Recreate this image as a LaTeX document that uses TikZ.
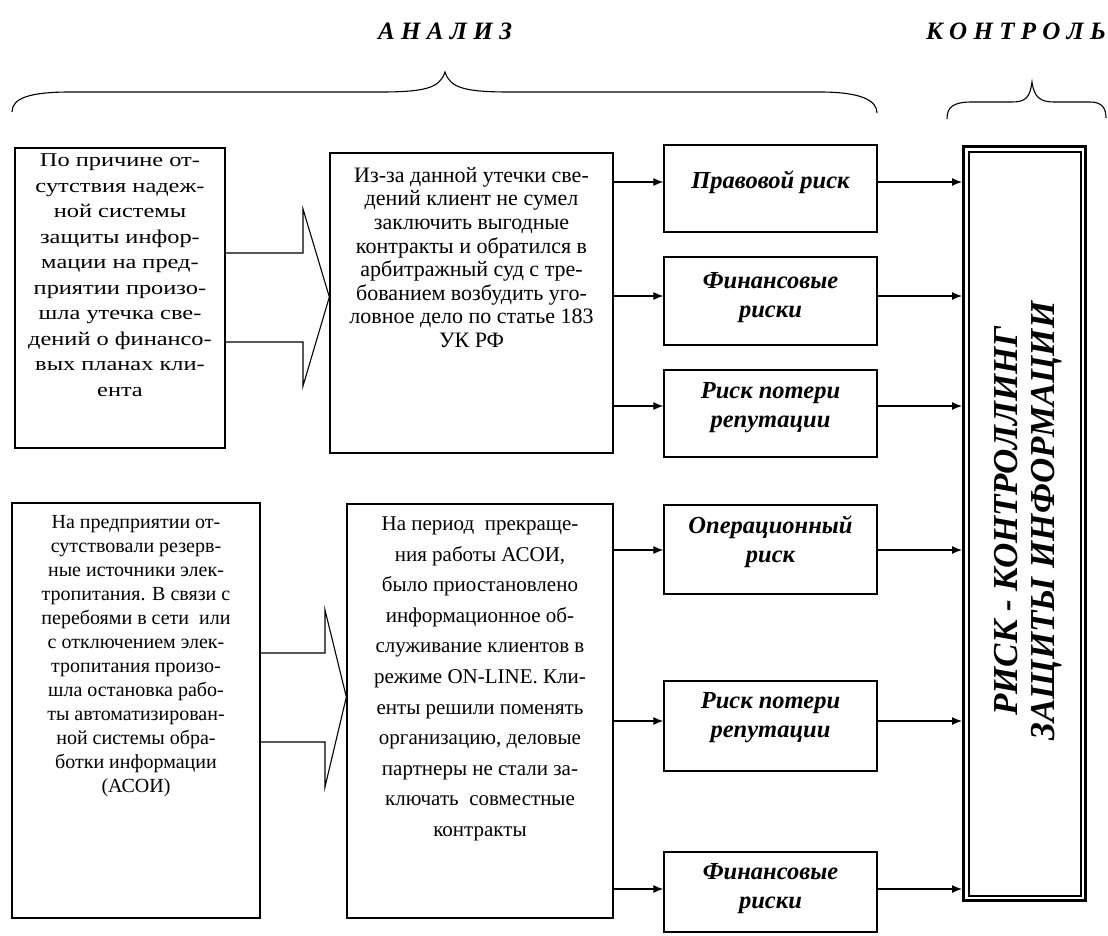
\documentclass[tikz,border=0pt]{standalone}
\usepackage{fontspec}
\setmainfont{Liberation Serif}
\newfontfamily\widefont[FakeStretch=1.25]{Liberation Serif}
\usetikzlibrary{arrows.meta,calc}
\begin{document}
\begin{tikzpicture}[x=1pt,y=-1pt,
  box/.style={draw, line width=1.3pt, inner sep=0pt},
  txt/.style={align=center, inner sep=0pt, anchor=north, font=\fontsize{18.5}{25.5}\selectfont},
  rtxt/.style={align=center, inner sep=0pt, font=\fontsize{24.5}{29}\selectfont\bfseries\itshape},
  hdr/.style={inner sep=0pt, font=\fontsize{25}{25}\selectfont\bfseries\itshape},
  arr/.style={line width=1.2pt, -{Latex[length=10pt,width=8pt]}},
  hollow/.style={line width=1.1pt, line join=miter},
  brace/.style={line width=1.1pt}
]
\useasboundingbox (0,0) rectangle (1108,935);

% headers
\node[hdr] (hA) at (445,31) {\makebox[134pt][s]{А\hfill Н\hfill А\hfill Л\hfill И\hfill З}};
\node[hdr] (hK) at (1016,31) {\makebox[180pt][s]{К\hfill О\hfill Н\hfill Т\hfill Р\hfill О\hfill Л\hfill Ь}};

% braces
\draw[brace] (12,112) .. controls (12,98) and (30,92) .. (70,92) -- (380,92)
  .. controls (425,92) and (440,88) .. (445,72)
  .. controls (450,88) and (465,92) .. (510,92) -- (820,92)
  .. controls (860,92) and (877,100) .. (877,113);
\draw[brace] (947,119) .. controls (947,107) and (953,102) .. (972,102) -- (1012,102)
  .. controls (1026,102) and (1030,97) .. (1032,82)
  .. controls (1034,97) and (1040,102) .. (1054,102) -- (1090,102)
  .. controls (1102,102) and (1106,108) .. (1106,118);

% left boxes
\node[box, minimum width=210, minimum height=300] (a1) at (120,298) {};
\node[box, minimum width=283, minimum height=300] (b1) at (471.5,303) {};
\node[box, minimum width=248, minimum height=415] (a2) at (136,710.5) {};
\node[box, minimum width=266, minimum height=414] (b2) at (480,711) {};

\node[txt, font=\widefont\fontsize{19.5}{25.5}\selectfont] (a1t) at (120,154) {По причине от-\\сутствия надеж-\\ной системы\\защиты инфор-\\мации на пред-\\приятии произо-\\шла утечка све-\\дений о финансо-\\вых планах кли-\\ента};
\node[txt, font=\fontsize{22}{23.6}\selectfont] (b1t) at (471.5,167) {Из-за данной утечки све-\\дений клиент не сумел\\заключить выгодные\\контракты и обратился в\\арбитражный суд с тре-\\бованием возбудить уго-\\ловное дело по статье 183\\УК РФ};
\node[txt, font=\fontsize{20}{24}\selectfont] (a2t) at (136,515) {На предприятии от-\\сутствовали резерв-\\ные источники элек-\\тропитания. В связи с\\перебоями в сети\ \ или\\с отключением элек-\\тропитания произо-\\шла остановка рабо-\\ты автоматизирован-\\ной системы обра-\\ботки информации\\(АСОИ)};
\node[txt, font=\fontsize{21}{30.6}\selectfont] (b2t) at (480,516.5) {На период\ \ прекраще-\\ния работы АСОИ,\\было приостановлено\\информационное об-\\служивание клиентов в\\режиме ON-LINE. Кли-\\енты решили поменять\\организацию, деловые\\партнеры не стали за-\\ключать\ \ совместные\\контракты};

% hollow arrows
\draw[hollow] (a1.east |- 0,253) -- (303,253) -- (303,209) -- (b1.west |- 0,297) -- (303,386) -- (303,342) -- (a1.east |- 0,342);
\draw[hollow] (a2.east |- 0,653) -- (325,653) -- (325,610) -- (b2.west |- 0,697) -- (325,787) -- (325,742) -- (a2.east |- 0,742);

% right boxes
\node[box, minimum width=213, minimum height=87] (r1) at (770.5,188.5) {};
\node[box, minimum width=213, minimum height=88] (r2) at (770.5,301) {};
\node[box, minimum width=213, minimum height=87] (r3) at (770.5,413.5) {};
\node[box, minimum width=213, minimum height=89] (r4) at (770.5,549.5) {};
\node[box, minimum width=213, minimum height=90] (r5) at (770.5,726) {};
\node[box, minimum width=213, minimum height=80] (r6) at (770.5,892) {};

\node[rtxt] (r1t) at (770.5,182) {Правовой риск};
\node[rtxt] (r2t) at (770.5,298) {Финансовые\\риски};
\node[rtxt] (r3t) at (770.5,408) {Риск потери\\репутации};
\node[rtxt] (r4t) at (770.5,542) {Операционный\\риск};
\node[rtxt] (r5t) at (770.5,718) {Риск потери\\репутации};
\node[rtxt] (r6t) at (770.5,889) {Финансовые\\риски};

% big box
\node[draw, line width=3pt, minimum width=122, minimum height=754, inner sep=0pt] (k) at (1024.5,523.5) {};
\draw[line width=1.2pt] ($(k.north west)+(7,7)$) rectangle ($(k.south east)+(-6,-6)$);
\node[rotate=90, align=center, inner sep=0pt, font=\fontsize{35}{37}\selectfont\bfseries\itshape] (kt) at (1028,521) {РИСК - КОНТРОЛЛИНГ\\ЗАЩИТЫ ИНФОРМАЦИИ};

% connectors
\coordinate (y1) at (0,182);
\coordinate (y2) at (0,296);
\coordinate (y3) at (0,406);
\coordinate (y4) at (0,550);
\coordinate (y5) at (0,721);
\coordinate (y6) at (0,889);
\draw[arr] (y1 -| b1.east) -- (y1 -| r1.west);
\draw[arr] (y2 -| b1.east) -- (y2 -| r2.west);
\draw[arr] (y3 -| b1.east) -- (y3 -| r3.west);
\draw[arr] (y4 -| b2.east) -- (y4 -| r4.west);
\draw[arr] (y5 -| b2.east) -- (y5 -| r5.west);
\draw[arr] (y6 -| b2.east) -- (y6 -| r6.west);
\draw[arr] (y1 -| r1.east) -- (y1 -| k.west);
\draw[arr] (y2 -| r2.east) -- (y2 -| k.west);
\draw[arr] (y3 -| r3.east) -- (y3 -| k.west);
\draw[arr] (y4 -| r4.east) -- (y4 -| k.west);
\draw[arr] (y5 -| r5.east) -- (y5 -| k.west);
\draw[arr] (y6 -| r6.east) -- (y6 -| k.west);
\end{tikzpicture}
\end{document}
